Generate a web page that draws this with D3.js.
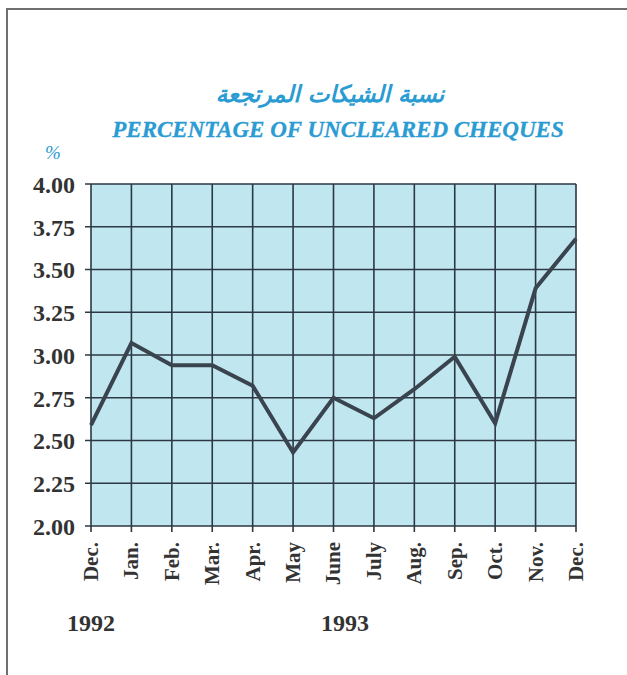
<!DOCTYPE html>
<html>
<head>
<meta charset="utf-8">
<script src="https://cdn.jsdelivr.net/npm/d3@7"></script>
<style>
  body { margin: 0; background: #fff; }
  .tick-label { font-family: "Liberation Serif", "Times New Roman", serif; font-weight: bold; fill: #333; }
  .title-en { font-family: "Liberation Serif", serif; font-weight: bold; font-style: italic; fill: #2a9bd3; }
  .title-ar { font-family: "DejaVu Sans", sans-serif; font-weight: bold; font-style: italic; fill: #2a9bd3; }
</style>
</head>
<body>
<svg id="chart" width="627" height="675"></svg>
<script>
// data
var months = ["Dec.", "Jan.", "Feb.", "Mar.", "Apr.", "May", "June", "July", "Aug.", "Sep.", "Oct.", "Nov.", "Dec."]
var values = [2.59, 3.07, 2.94, 2.94, 2.82, 2.43, 2.75, 2.63, 2.80, 2.99, 2.60, 3.39, 3.68]
var yTicks = [2.00, 2.25, 2.50, 2.75, 3.00, 3.25, 3.50, 3.75, 4.00]
var years = ["1992", "1993"]
var yearPos = [91, 345]

var svg = d3.select("#chart")

// outer frame
svg.append("rect")
  .attr("x", 7).attr("y", 9)
  .attr("width", 640).attr("height", 700)
  .attr("fill", "none")
  .attr("stroke", "#6f6f6f")
  .attr("stroke-width", 2)

var plotL = 91, plotR = 576, plotT = 184, plotB = 526

var x = d3.scalePoint().domain(d3.range(months.length)).range([plotL, plotR])
var y = d3.scaleLinear().domain([2, 4]).range([plotB, plotT])

// titles
svg.append("text")
  .attr("class", "title-ar")
  .attr("x", 330).attr("y", 102)
  .attr("text-anchor", "middle")
  .attr("font-size", 23)
  .attr("direction", "rtl")
  .text("نسبة الشيكات المرتجعة")

svg.append("text")
  .attr("class", "title-en")
  .attr("x", 338).attr("y", 137)
  .attr("text-anchor", "middle")
  .attr("font-size", 23)
  .attr("stroke", "#2a9bd3").attr("stroke-width", 0.3)
  .text("PERCENTAGE OF UNCLEARED CHEQUES")

svg.append("text")
  .attr("x", 53).attr("y", 159)
  .attr("text-anchor", "middle")
  .attr("font-family", "Liberation Serif, serif")
  .attr("font-style", "italic")
  .attr("font-size", 19)
  .attr("fill", "#2a9bd3")
  .text("%")

// plot background
svg.append("rect")
  .attr("x", plotL).attr("y", plotT)
  .attr("width", plotR - plotL).attr("height", plotB - plotT)
  .attr("fill", "#c0e6ef")

// y labels
var gy = svg.append("g").attr("transform", "translate(" + (plotL - 6) + ",0)")
  .call(d3.axisLeft(y).tickValues(yTicks).tickSize(0).tickFormat(d3.format(".2f")))
gy.select(".domain").remove()
gy.selectAll("text").attr("class", "tick-label").attr("font-size", 24).attr("x", -10).attr("dy", "0.35em")

// grid
svg.append("g").selectAll("line")
  .data(yTicks).enter().append("line")
  .attr("x1", plotL - 6).attr("x2", plotR)
  .attr("y1", d => y(d)).attr("y2", d => y(d))
  .attr("stroke", "#2c3843").attr("stroke-width", 1.6)

svg.append("g").selectAll("line")
  .data(d3.range(months.length)).enter().append("line")
  .attr("x1", d => x(d)).attr("x2", d => x(d))
  .attr("y1", plotT).attr("y2", plotB + 6)
  .attr("stroke", "#2c3843").attr("stroke-width", 1.6)

// month labels, rotated
svg.append("g").selectAll("text")
  .data(months).enter().append("text")
  .attr("class", "tick-label")
  .attr("font-size", 21)
  .attr("text-anchor", "end")
  .attr("dy", "0.33em")
  .attr("transform", (d, i) => "translate(" + x(i) + ",542) rotate(-90)")
  .text(d => d)

// years
svg.append("g").selectAll("text")
  .data(years).enter().append("text")
  .attr("class", "tick-label")
  .attr("font-size", 24)
  .attr("x", (d, i) => yearPos[i])
  .attr("y", 631)
  .attr("text-anchor", "middle")
  .text(d => d)

// the line
var line = d3.line().x((d, i) => x(i)).y(d => y(d))
svg.append("path")
  .datum(values)
  .attr("d", line)
  .attr("fill", "none")
  .attr("stroke", "#39444e")
  .attr("stroke-width", 4)
  .attr("stroke-linejoin", "miter")
</script>
</body>
</html>
